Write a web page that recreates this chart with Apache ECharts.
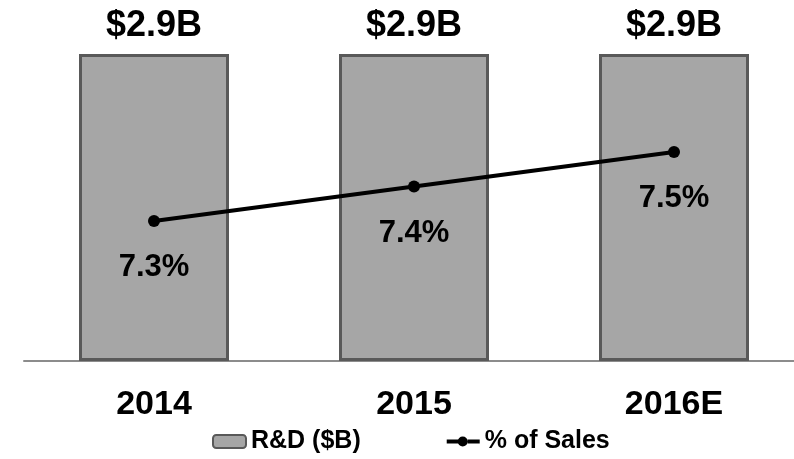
<!DOCTYPE html>
<html>
<head>
<meta charset="utf-8">
<script src="https://cdn.jsdelivr.net/npm/echarts@6/dist/echarts.min.js"></script>
<style>
  html, body { margin: 0; padding: 0; background: #fff; overflow: hidden; }
  /* a bit wider than the window: the slide's plot area runs past the right edge */
  #main { width: 810px; height: 459px; }
</style>
</head>
<body>
<div id="main"></div>
<script>
const years = ['2014', '2015', '2016E']
const rdValues = [2.9, 2.9, 2.9]
const pctSales = [7.3, 7.4, 7.5]

const chart = echarts.init(document.getElementById('main'))
const option = {
  animation: false,
  textStyle: { fontFamily: 'Liberation Sans, Arial, sans-serif' },
  grid: { left: 24, width: 780, top: 54, bottom: 98 },
  legend: {
    bottom: 0,
    left: 207,
    itemGap: 86,
    itemWidth: 33,
    itemHeight: 13,
    textStyle: { fontSize: 25, fontWeight: 'bold', color: '#000' },
    data: [
      { name: 'R&D ($B)' },
      // thick line with a dot, like the slide legend
      { name: '% of Sales', icon: 'path://M0,4H12V8H0Z M21,4H33V8H21Z M11,6A5,5,0,1,1,21,6A5,5,0,1,1,11,6Z' }
    ]
  },
  xAxis: {
    type: 'category',
    data: years,
    axisTick: { show: false },
    axisLine: { lineStyle: { color: '#8c8c8c', width: 2 } },
    axisLabel: { fontSize: 34, fontWeight: 'bold', color: '#000', margin: 27 }
  },
  yAxis: [
    { type: 'value', min: 0, max: 2.9, show: false },
    { type: 'value', min: 6.894, max: 7.784, show: false }
  ],
  series: [
    {
      name: 'R&D ($B)',
      type: 'bar',
      barWidth: 150,
      data: rdValues,
      itemStyle: { color: '#a6a6a6', borderColor: '#595959', borderWidth: 3 },
      label: {
        show: true,
        position: 'top',
        distance: 10,
        formatter: (p) => '$' + p.value.toFixed(1) + 'B',
        fontSize: 36,
        fontWeight: 'bold',
        color: '#000'
      }
    },
    {
      name: '% of Sales',
      type: 'line',
      yAxisIndex: 1,
      data: pctSales,
      symbol: 'circle',
      symbolSize: 12,
      lineStyle: { color: '#000', width: 4 },
      itemStyle: { color: '#000' },
      label: {
        show: true,
        position: 'bottom',
        distance: 25,
        formatter: (p) => p.value.toFixed(1) + '%',
        fontSize: 31,
        fontWeight: 'bold',
        color: '#000'
      }
    }
  ]
}
chart.setOption(option)
</script>
</body>
</html>
